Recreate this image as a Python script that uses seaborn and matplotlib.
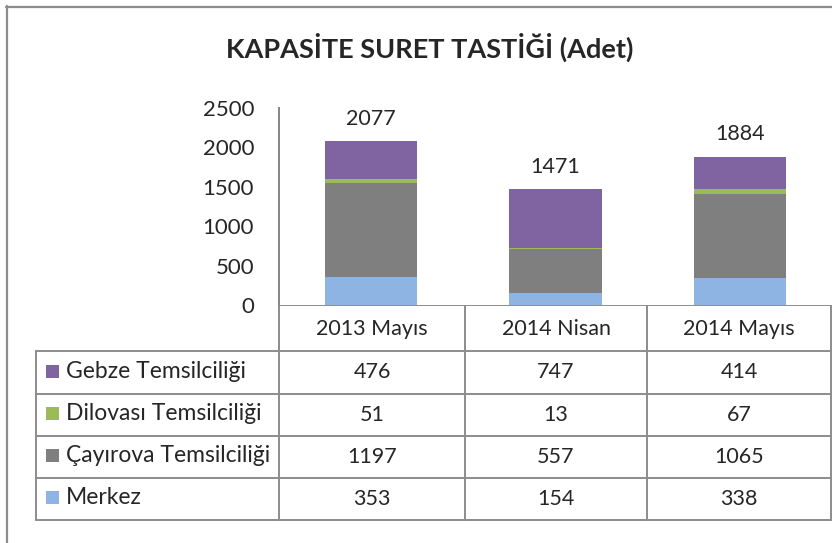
import numpy as np
import pandas as pd
import matplotlib.pyplot as plt
import seaborn as sns

# data
months = ['2013 Mayıs', '2014 Nisan', '2014 Mayıs']
series = ['Merkez', 'Çayırova Temsilciliği', 'Dilovası Temsilciliği', 'Gebze Temsilciliği']
merkez = [353, 154, 338]
cayirova = [1197, 557, 1065]
dilovasi = [51, 13, 67]
gebze = [476, 747, 414]
colors = ['#8EB4E3', '#7F7F7F', '#9BBB59', '#8064A2']

sns.set_style('white')
plt.rcParams['font.family'] = ['Lato', 'DejaVu Sans']

W, H = 832, 543
fig = plt.figure(figsize=(W / 100, H / 100), dpi=100)

# overlay in pixel coordinates for frame + data table
ov = fig.add_axes([0, 0, 1, 1])
ov.set_xlim(0, W)
ov.set_ylim(H, 0)
ov.axis('off')

ax = fig.add_axes([279 / W, 1 - 305 / H, (W - 279) / W, (305 - 108) / H])

vals = np.array([merkez, cayirova, dilovasi, gebze])
cum = np.cumsum(vals, axis=0)
# stacked bars: draw cumulative heights from the top series down
for i in range(len(series) - 1, -1, -1):
    sns.barplot(x=months, y=cum[i], order=months, color=colors[i], saturation=1,
                width=0.5, linewidth=0, ax=ax)

totals = cum[-1]
for i, t in enumerate(totals):
    ax.annotate(str(t), (i, t), xytext=(0, 16), textcoords='offset points',
                ha='center', va='center', fontsize=15.5)

ax.set_xlim(-0.5, 2.5)
ax.set_ylim(0, 2500)
ax.set_yticks(range(0, 2501, 500))
ax.set_xticks([])
ax.set_xlabel('')
ax.set_ylabel('')
ax.tick_params(axis='y', length=0, pad=18, labelsize=16)
for s in ['top', 'right', 'bottom']:
    ax.spines[s].set_visible(False)
ax.spines['left'].set_color('#868686')
ax.spines['left'].set_linewidth(1.4)

# frame and title
gc = '#8C8C8C'
ov.plot([6.5, 6.5], [6, H], color=gc, lw=1.6)
ov.plot([6, W], [6.5, 6.5], color=gc, lw=1.6)
ov.text(430, 47, 'KAPASİTE SURET TASTİĞİ (Adet)', ha='center', va='center',
        fontsize=19.5, fontweight='bold')

# data table
rows_y = [305, 351, 394, 436, 478, 520]
cols_x = [36, 279, 465, 647, 831]
ov.plot([279, 831], [305, 305], color=gc, lw=1.4)
for y in rows_y[1:]:
    ov.plot([36, 831], [y, y], color=gc, lw=1.4)
ov.plot([36, 36], [351, 520], color=gc, lw=1.4)
for x in cols_x[1:]:
    ov.plot([x, x], [305, 520], color=gc, lw=1.4)

centers = [(cols_x[k] + cols_x[k + 1]) / 2 for k in range(1, 4)]
for k, m in enumerate(months):
    ov.text(centers[k], 329, m, ha='center', va='center', fontsize=15.5)

for r, i in enumerate(range(len(series) - 1, -1, -1)):
    yc = (rows_y[r + 1] + rows_y[r + 2]) / 2
    ov.add_patch(plt.Rectangle((46, yc - 8), 13, 13, color=colors[i], lw=0))
    ov.text(66, yc - 1, series[i], ha='left', va='center', fontsize=16.5)
    for k in range(3):
        ov.text(centers[k], yc, str(vals[i][k]), ha='center', va='center', fontsize=15.5)

fig.savefig('out.png', dpi=100)
